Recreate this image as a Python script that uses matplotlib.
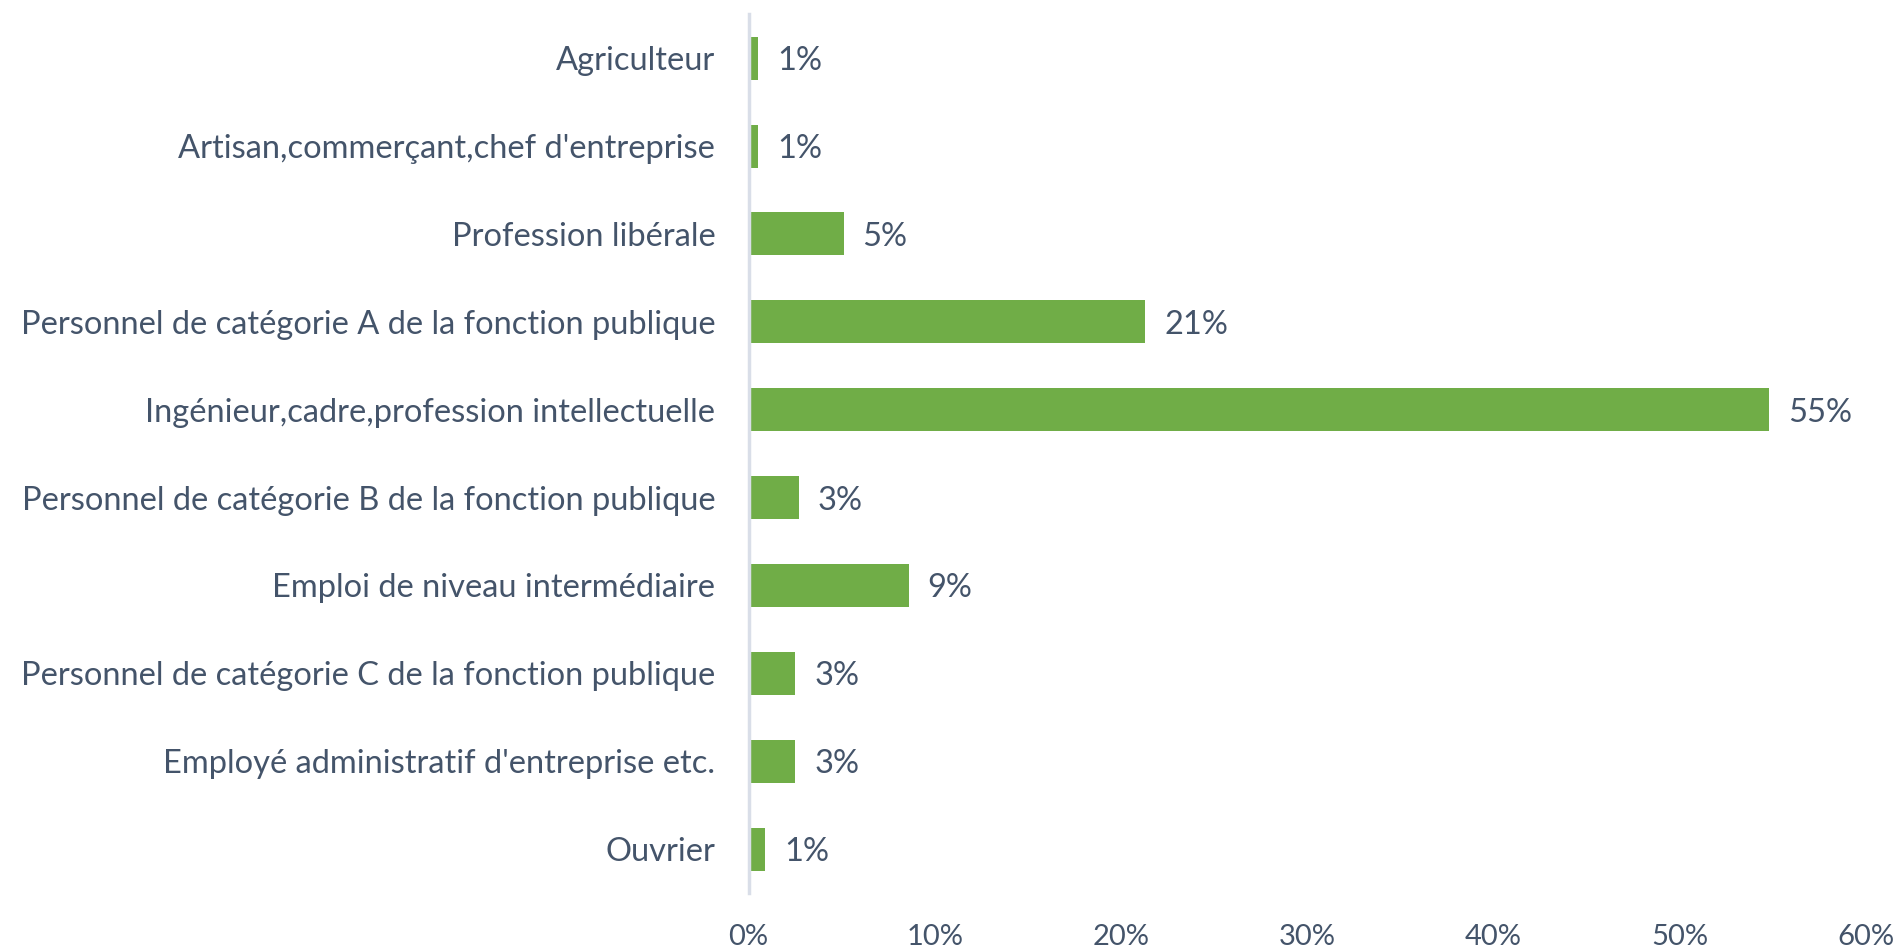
import matplotlib
matplotlib.use("Agg")
import matplotlib.pyplot as plt
from matplotlib.ticker import FuncFormatter

categories = [
    "Agriculteur",
    "Artisan,commerçant,chef d'entreprise",
    "Profession libérale",
    "Personnel de catégorie A de la fonction publique",
    "Ingénieur,cadre,profession intellectuelle",
    "Personnel de catégorie B de la fonction publique",
    "Emploi de niveau intermédiaire",
    "Personnel de catégorie C de la fonction publique",
    "Employé administratif d'entreprise etc.",
    "Ouvrier",
]
values = [0.5, 0.5, 5.1, 21.3, 54.8, 2.7, 8.6, 2.5, 2.5, 0.9]
value_labels = ["1%", "1%", "5%", "21%", "55%", "3%", "9%", "3%", "3%", "1%"]
x_ticks = [0, 10, 20, 30, 40, 50, 60]

GREEN = "#70AD47"
TEXT = "#44546A"
AXIS = "#D9DEE8"

plt.rcParams['font.family'] = ['Lato', 'DejaVu Sans']

fig = plt.figure(figsize=(19, 9.52), dpi=100)
ax = fig.add_axes([0.394, 0.062, 0.588, 0.923])

y = list(range(len(categories)))
ax.barh(y, values, height=0.49, color=GREEN, zorder=2)

for yi, v, lab in zip(y, values, value_labels):
    ax.annotate(lab, xy=(v, yi), xytext=(19, -3), textcoords="offset pixels",
                ha="left", va="center", fontsize=23.5, color=TEXT)

ax.set_ylim(len(categories) - 0.5, -0.5)
ax.set_xlim(0, 60)
ax.set_yticks(y)
ax.set_yticklabels(categories, fontsize=23.5, color=TEXT)
ax.set_xticks(x_ticks)
ax.xaxis.set_major_formatter(FuncFormatter(lambda v, p: f"{int(v)}%"))
ax.tick_params(axis="x", labelsize=21, labelcolor=TEXT, length=0, pad=22)
ax.tick_params(axis="y", length=0, pad=24)

for s in ["top", "right", "bottom"]:
    ax.spines[s].set_visible(False)
ax.spines["left"].set_color(AXIS)
ax.spines["left"].set_linewidth(2.5)

fig.savefig("out.png", dpi=100)
